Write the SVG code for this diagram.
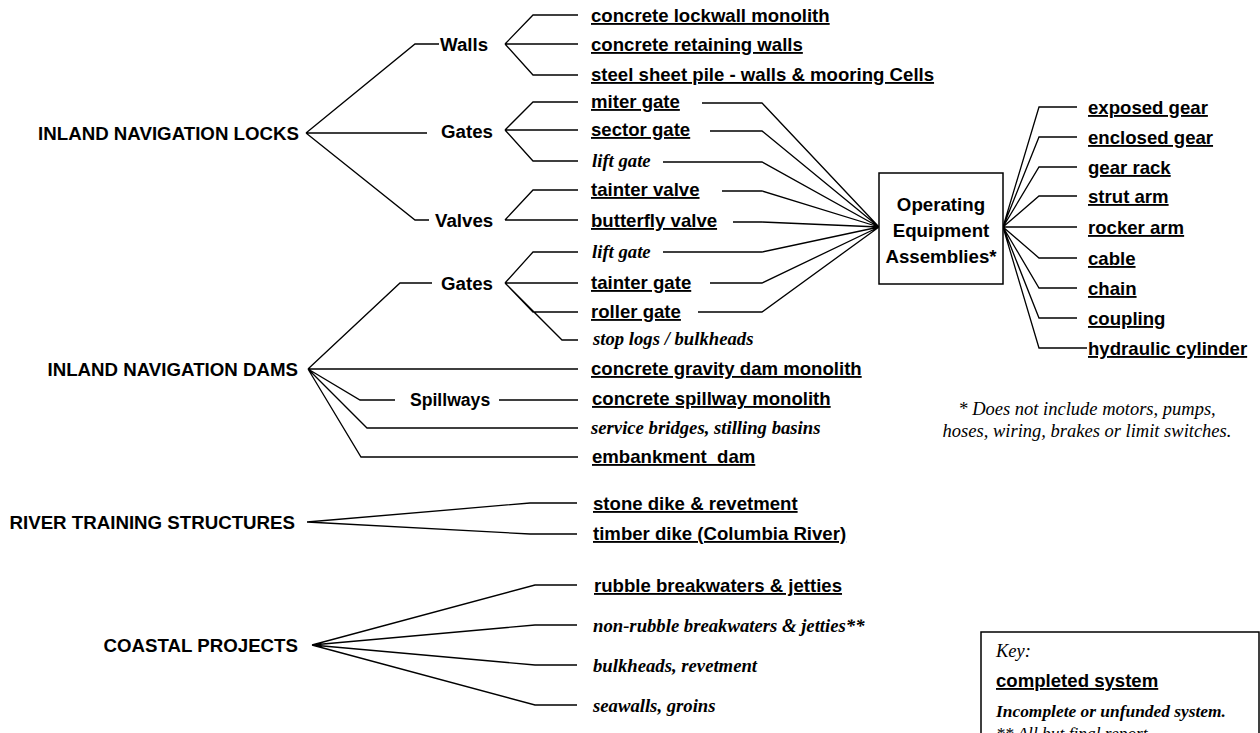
<svg xmlns="http://www.w3.org/2000/svg" width="1260" height="733" viewBox="0 0 1260 733">
<style>
.h{font-family:"Liberation Sans",Arial,sans-serif;font-weight:bold;font-size:18.7px;fill:#000}
.c{font-family:"Liberation Sans",Arial,sans-serif;font-weight:bold;font-size:18.6px;fill:#000;text-decoration:underline}
.i{font-family:"Liberation Serif","Times New Roman",serif;font-weight:bold;font-style:italic;font-size:18.7px;fill:#000}
.n{font-family:"Liberation Serif","Times New Roman",serif;font-style:italic;font-size:18.5px;fill:#000}
.ln path{fill:none;stroke:#000;stroke-width:1.3}
.box{fill:#fff;stroke:#000;stroke-width:1.5}
</style>
<rect width="1260" height="733" fill="#fff"/>
<g class="ln" id="connectors">
<path d="M306,133 L415,44 L439,44 M306,133 L427,133 M306,133 L415,220 L429,220"/>
<path d="M505,44 L533,15 L578,15 M505,44 L578,44 M505,44 L533,75 L578,75"/>
<path d="M505,130 L533,102 L578,102 M505,130 L578,130 M505,130 L533,161 L578,161"/>
<path d="M505,220 L533,190 L578,190 M505,220 L578,220"/>
<path d="M505,283 L533,252 L578,252 M505,283 L578,283 M505,283 L533,312 L578,312 M505,283 L562,340 L578,340"/>
<path d="M308,369 L400,283 L432,283 M308,369 L578,369 M308,369 L360,400 L395,400 M499,400 L578,400 M308,369 L367,428 L578,428 M308,369 L361,457 L578,457"/>
<path d="M307,522 L530,503 L577,503 M307,522 L530,534 L577,534"/>
<path d="M312,645 L535,585 L577,585 M312,645 L535,625 L577,625 M312,645 L535,665 L577,665 M312,645 L535,705 L577,705"/>
<path d="M702,103 L762,103 L879,227 M710,131 L762,131 L879,227 M663,162 L762,162 L879,227 M722,191 L762,191 L879,227 M733,222 L762,222 L879,227 M663,252 L762,252 L879,227 M710,283 L762,283 L879,227 M698,312 L762,312 L879,227"/>
<path d="M1003,227 L1039,107 L1077,107 M1003,227 L1039,137 L1077,137 M1003,227 L1039,167 L1077,167 M1003,227 L1039,196 L1077,196 M1003,227 L1077,227 M1003,227 L1039,258 L1077,258 M1003,227 L1039,288 L1077,288 M1003,227 L1039,318 L1077,318 M1003,227 L1039,348 L1087,348"/>
</g>
<g id="locks"><text class="h" x="299" y="140" text-anchor="end">INLAND NAVIGATION LOCKS</text></g>
<g id="dams"><text class="h" x="298" y="376" text-anchor="end">INLAND NAVIGATION DAMS</text></g>
<g id="river"><text class="h" x="295" y="529" text-anchor="end">RIVER TRAINING STRUCTURES</text></g>
<g id="coastal"><text class="h" x="298" y="652" text-anchor="end">COASTAL PROJECTS</text></g>
<g id="walls"><text class="h" x="440" y="51">Walls</text></g>
<g id="lock-gates"><text class="h" x="441" y="138">Gates</text></g>
<g id="valves"><text class="h" x="435" y="227">Valves</text></g>
<g id="dam-gates"><text class="h" x="441" y="290">Gates</text></g>
<g id="spillways"><text class="h" x="410" y="406" style="font-size:17.6px">Spillways</text></g>
<g id="items">
<text class="c" x="591" y="22">concrete lockwall monolith</text>
<text class="c" x="591" y="51">concrete retaining walls</text>
<text class="c" x="591" y="81">steel sheet pile - walls &amp; mooring Cells</text>
<text class="c" x="591" y="108">miter gate</text>
<text class="c" x="591" y="136">sector gate</text>
<text class="i" x="592" y="167">lift gate</text>
<text class="c" x="591" y="196">tainter valve</text>
<text class="c" x="591" y="227">butterfly valve</text>
<text class="i" x="592" y="258">lift gate</text>
<text class="c" x="591" y="289">tainter gate</text>
<text class="c" x="591" y="318">roller gate</text>
<text class="i" x="593" y="345">stop logs / bulkheads</text>
<text class="c" x="591" y="375">concrete gravity dam monolith</text>
<text class="c" x="592" y="405">concrete spillway monolith</text>
<text class="i" x="591" y="434">service bridges, stilling basins</text>
<text class="c" x="592" y="463">embankment&#160; dam</text>
<text class="c" x="593" y="510">stone dike &amp; revetment</text>
<text class="c" x="593" y="540">timber dike (Columbia River)</text>
<text class="c" x="594" y="592">rubble breakwaters &amp; jetties</text>
<text class="i" x="593" y="632">non-rubble breakwaters &amp; jetties**</text>
<text class="i" x="593" y="672">bulkheads, revetment</text>
<text class="i" x="593" y="712">seawalls, groins</text>
</g>
<g id="operating">
<rect class="box" x="879" y="173" width="124" height="111"/>
<text class="h" x="941" y="211" text-anchor="middle">Operating</text>
<text class="h" x="941" y="237" text-anchor="middle">Equipment</text>
<text class="h" x="941" y="263" text-anchor="middle">Assemblies*</text>
</g>
<g id="components">
<text class="c" x="1088" y="114">exposed gear</text>
<text class="c" x="1088" y="144">enclosed gear</text>
<text class="c" x="1088" y="174">gear rack</text>
<text class="c" x="1088" y="203">strut arm</text>
<text class="c" x="1088" y="234">rocker arm</text>
<text class="c" x="1088" y="265">cable</text>
<text class="c" x="1088" y="295">chain</text>
<text class="c" x="1088" y="325">coupling</text>
<text class="c" x="1088" y="355">hydraulic cylinder</text>
</g>
<g id="note">
<text class="n" x="1087" y="415" text-anchor="middle">* Does not include motors, pumps,</text>
<text class="n" x="1087" y="437" text-anchor="middle">hoses, wiring, brakes or limit switches.</text>
</g>
<g id="key">
<rect class="box" x="981" y="632" width="278" height="130"/>
<text class="n" x="996" y="657">Key:</text>
<text class="c" x="996" y="687">completed system</text>
<text class="i" x="996" y="717" style="font-size:17.4px">Incomplete or unfunded system.</text>
<text class="n" x="996" y="739" style="font-size:17.4px">** All but final report.</text>
</g>
</svg>
